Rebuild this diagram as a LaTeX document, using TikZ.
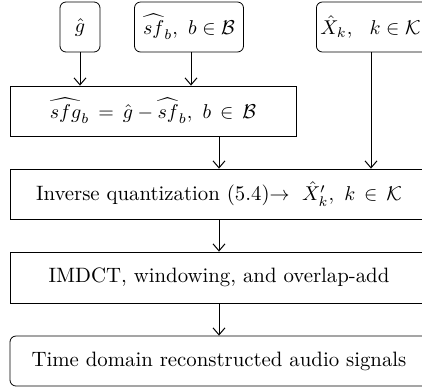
\documentclass[tikz,border=0pt]{standalone}
\usepackage{amsmath,amssymb}
\usetikzlibrary{arrows.meta}
\begin{document}
\begin{tikzpicture}[x=0.5pt,y=-0.5pt,
  every node/.style={font=\fontsize{10.4}{12}\selectfont, inner sep=0pt, align=center},
  rbox/.style={draw, rounded corners=3pt, minimum height=25pt},
  sbox/.style={draw, minimum height=25pt},
  arr/.style={-{Straight Barb[length=3.5pt,width=6pt]}, line width=0.5pt}]
\useasboundingbox (0,0) rectangle (422,387);
\clip (0,0) rectangle (422,387);
\node[rbox, minimum width=20pt] (g) at (80,27) {$\hat{g}$};
\node[rbox, minimum width=54.5pt] (sf) at (189,27) {$\widehat{sf}_b,\ b\in\mathcal{B}$};
\node[rbox, anchor=west, text width=56pt, inner xsep=2pt, align=left] (X) at (316,27) {$\hat{X}_k,\ \ k\in\mathcal{K}$};
\node[sbox, minimum width=143pt] (sfg) at (153,111) {$\widehat{sfg}_b \,=\, \hat{g} - \widehat{sf}_b,\ b \,\in\, \mathcal{B}$};
\node[sbox, minimum width=209pt] (inv) at (219,194) {Inverse quantization (5.4)$\rightarrow\ \hat{X}'_k,\ k \,\in\, \mathcal{K}$};
\node[sbox, minimum width=209pt, minimum height=25.5pt] (imdct) at (219,277.5) {IMDCT, windowing, and overlap-add};
\node[rbox, minimum width=209pt] (time) at (219,361) {Time domain reconstructed audio signals};
\draw[arr] (g.south) -- (g.south |- sfg.north);
\draw[arr] ([xshift=1pt]sf.south) -- ([xshift=1pt]sf.south |- sfg.north);
\draw[arr] (inv.north |- sfg.south) -- (inv.north);
\draw[arr] ([xshift=27.5pt]X.south west) -- ([xshift=27.5pt]X.south west |- inv.north);
\draw[arr] (inv.south) -- (imdct.north);
\draw[arr] (imdct.south) -- (time.north);
\end{tikzpicture}
\end{document}
